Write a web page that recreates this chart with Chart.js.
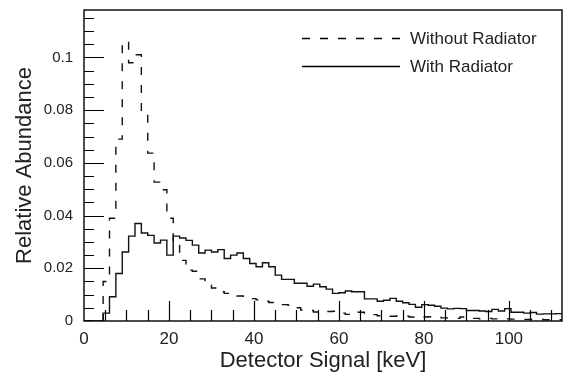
<!DOCTYPE html>
<html>
<head>
<meta charset="utf-8">
<script src="https://cdn.jsdelivr.net/npm/chart.js@4.4.1/dist/chart.umd.min.js"></script>
<style>
  html, body { margin: 0; padding: 0; background: #fff; }
  #wrap { width: 565px; height: 381px; }
</style>
</head>
<body>
<div id="wrap"><canvas id="chart"></canvas></div>
<script>
// histogram bins, 1.5 keV wide, starting at 0
const binWidth = 1.5;
const withoutRadiator = [
    0, 0, 0, 0.015, 0.039, 0.069, 0.106, 0.098, 0.101, 0.078,
    0.0637, 0.0527, 0.0498, 0.039, 0.030, 0.023, 0.0193, 0.0189, 0.016, 0.0136,
    0.0125, 0.0111, 0.0105, 0.0098, 0.0095, 0.009, 0.0085, 0.008, 0.0075, 0.007,
    0.0064, 0.0062, 0.006, 0.005, 0.0042, 0.004, 0.0034, 0.0033, 0.0036, 0.0037,
    0.003, 0.0025, 0.0029, 0.0033, 0.0028, 0.0024, 0.002, 0.002, 0.0018, 0.0019,
    0.0018, 0.0015, 0.0013, 0.0015, 0.0016, 0.0014, 0.0012, 0.0011, 0.001, 0.0015,
    0.0014, 0.001, 0.0008, 0.001, 0.0008, 0.0009, 0.0008, 0.0007, 0.0007, 0.0006,
    0.0006, 0.0007, 0.0005, 0.0005, 0.0005
];
const withRadiator = [
    0, 0, 0, 0.003, 0.0092, 0.018, 0.0262, 0.0322, 0.037, 0.0334,
    0.0325, 0.0296, 0.0307, 0.025, 0.0322, 0.0315, 0.0306, 0.0288, 0.0258, 0.0269,
    0.0262, 0.0271, 0.0237, 0.025, 0.0258, 0.0237, 0.0218, 0.0206, 0.0221, 0.0206,
    0.0174, 0.0158, 0.0158, 0.0143, 0.0143, 0.0132, 0.014, 0.013, 0.0121, 0.0105,
    0.0107, 0.0114, 0.0111, 0.0111, 0.0084, 0.0084, 0.0075, 0.0079, 0.0086, 0.0075,
    0.0069, 0.0063, 0.0052, 0.0062, 0.006, 0.0056, 0.0049, 0.0046, 0.0048, 0.0047,
    0.004, 0.004, 0.0038, 0.0036, 0.0044, 0.0038, 0.0047, 0.0033, 0.0033, 0.003,
    0.0032, 0.0026, 0.0027, 0.0027, 0.0028
];
const seriesLabels = ['Without Radiator', 'With Radiator'];
const xTickValues = [0, 20, 40, 60, 80, 100];
const xTickLabels = ['0', '20', '40', '60', '80', '100'];
const yTickValues = [0, 0.02, 0.04, 0.06, 0.08, 0.1];
const yTickLabels = ['0', '0.02', '0.04', '0.06', '0.08', '0.1'];

const xMax = 112.5;
const yMax = 0.118;
const font = "'Liberation Sans', Arial, sans-serif";

// one point per bin edge, plus the closing edge
function toSteps(values) {
    const pts = values.map((v, i) => ({x: i * binWidth, y: v}));
    pts.push({x: values.length * binWidth, y: values[values.length - 1]});
    return pts;
}

// ROOT-like frame with inward ticks, plus the legend box
const frameAndLegend = {
    id: 'frameAndLegend',
    afterDatasetsDraw(chart) {
        const {ctx, chartArea: a, scales: {x, y}} = chart;
        ctx.save();
        ctx.strokeStyle = '#000';
        ctx.lineWidth = 1.4;
        ctx.strokeRect(a.left, a.top, a.right - a.left, a.bottom - a.top);

        ctx.lineWidth = 1.2;
        ctx.beginPath();
        for (let v = 5; v < xMax; v += 5) {
            const px = Math.round(x.getPixelForValue(v)) + 0.5;
            const len = v % 20 === 0 ? 20 : 11;
            ctx.moveTo(px, a.bottom);
            ctx.lineTo(px, a.bottom - len);
        }
        for (let k = 1; k * 0.005 < yMax; k++) {
            const py = Math.round(y.getPixelForValue(k * 0.005)) + 0.5;
            const len = k % 4 === 0 ? 20 : 10;
            ctx.moveTo(a.left, py);
            ctx.lineTo(a.left + len, py);
        }
        ctx.stroke();

        // legend
        const rows = [38.5, 66.5];
        chart.data.datasets.forEach((ds, i) => {
            ctx.beginPath();
            ctx.lineWidth = 1.4;
            ctx.setLineDash(ds.borderDash || []);
            ctx.moveTo(302, rows[i]);
            ctx.lineTo(i === 0 ? 404 : 400, rows[i]);
            ctx.stroke();
            ctx.setLineDash([]);
            ctx.fillStyle = '#222';
            ctx.font = '17px ' + font;
            ctx.textBaseline = 'middle';
            ctx.textAlign = 'left';
            ctx.fillText(ds.label, 410, rows[i] + 0.5);
        });
        ctx.restore();
    }
};

const data = {
    datasets: [{
        label: seriesLabels[0],
        data: toSteps(withoutRadiator),
        borderColor: '#111',
        borderWidth: 1.4,
        borderDash: [8, 10],
        stepped: true,
        pointRadius: 0,
        fill: false,
    }, {
        label: seriesLabels[1],
        data: toSteps(withRadiator),
        borderColor: '#111',
        borderWidth: 1.4,
        stepped: true,
        pointRadius: 0,
        fill: false,
    }]
};

const options = {
    responsive: true,
    maintainAspectRatio: false,
    animation: false,
    layout: {
        padding: {top: 10, right: 3, left: 0, bottom: 0}
    },
    plugins: {
        legend: {display: false},
        tooltip: {enabled: false},
    },
    scales: {
        x: {
            type: 'linear',
            min: 0,
            max: xMax,
            afterBuildTicks: (scale) => {
                scale.ticks = xTickValues.map(v => ({value: v}));
            },
            afterFit: (scale) => {
                scale.height = 60;
                scale.paddingRight = 0;
            },
            grid: {display: false, drawTicks: false},
            border: {display: false},
            ticks: {
                padding: 8,
                maxRotation: 0,
                color: '#222',
                font: {family: font, size: 17},
                callback: (v, i) => xTickLabels[i],
            },
            title: {
                display: true,
                text: 'Detector Signal [keV]',
                color: '#222',
                font: {family: font, size: 22},
                padding: {top: 0, bottom: 7},
            }
        },
        y: {
            type: 'linear',
            min: 0,
            max: yMax,
            afterBuildTicks: (scale) => {
                scale.ticks = yTickValues.map(v => ({value: v}));
            },
            afterFit: (scale) => {
                scale.width = 84;
                scale.paddingTop = 0;
                scale.paddingBottom = 0;
            },
            grid: {display: false, drawTicks: false},
            border: {display: false},
            ticks: {
                padding: 11,
                color: '#222',
                font: {family: font, size: 15},
                callback: (v, i) => yTickLabels[i],
            },
            title: {
                display: true,
                text: 'Relative Abundance',
                color: '#222',
                font: {family: font, size: 22},
                padding: {top: 12, bottom: 0},
            }
        }
    }
};

const config = {
    type: 'line',
    data: data,
    options: options,
    plugins: [frameAndLegend],
};

const abundanceChart = new Chart(document.getElementById('chart'), config);
</script>
</body>
</html>
